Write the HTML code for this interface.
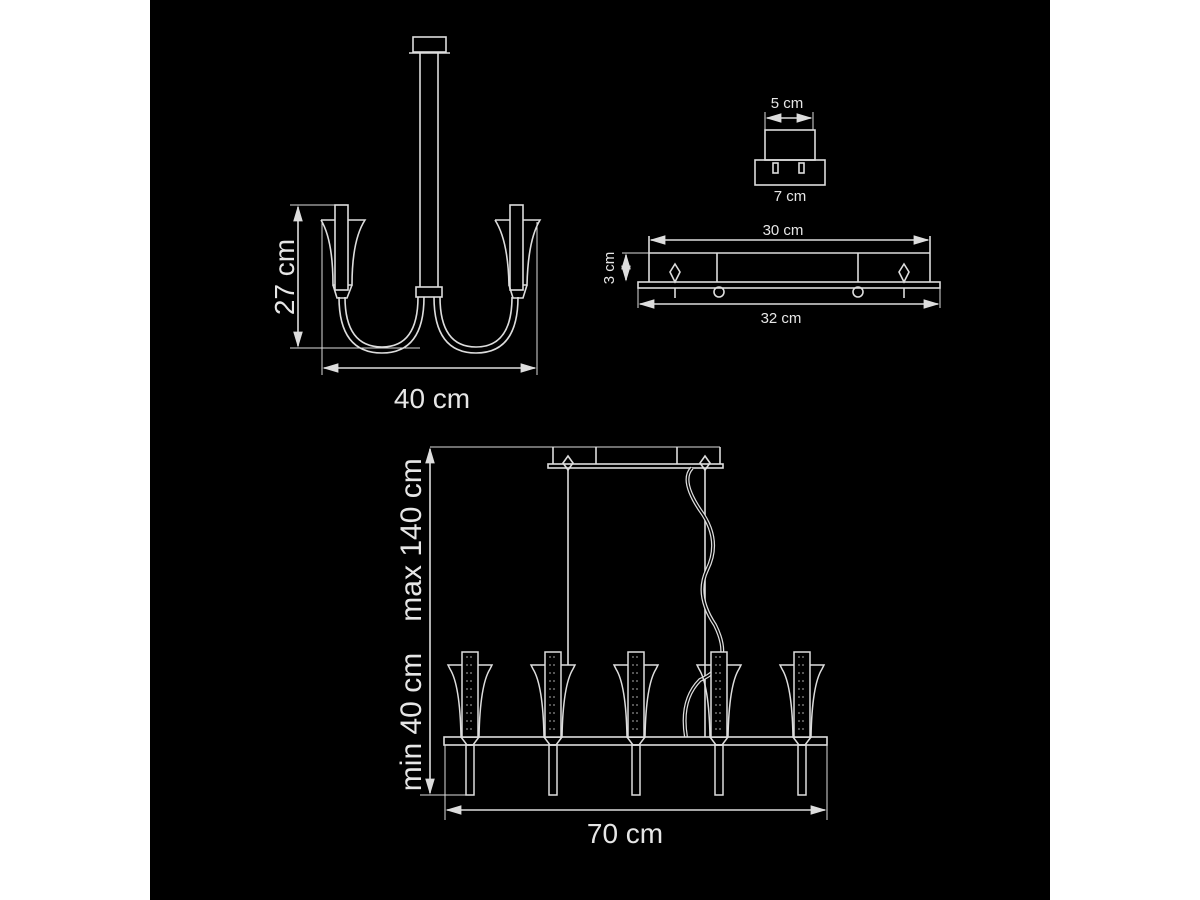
<!DOCTYPE html>
<html><head><style>
html,body{margin:0;padding:0;background:#fff;}
svg{display:block;}
text{font-family:"Liberation Sans",sans-serif;fill:#e6e6e6;}
</style></head><body>
<svg width="1200" height="900" viewBox="0 0 1200 900">
<defs>
<marker id="a" markerWidth="10" markerHeight="8" refX="9" refY="4" orient="auto"><path d="M0,1 L10,4 L0,7 Z" fill="#ddd"/></marker>
<marker id="b" markerWidth="10" markerHeight="8" refX="1" refY="4" orient="auto"><path d="M10,1 L0,4 L10,7 Z" fill="#ddd"/></marker>
<g id="cup">
<path d="M-22,0 L22,0 L20,4 Q10,20 9,72 L-9,72 Q-10,20 -20,4 Z" fill="none" stroke="#ddd" stroke-width="1.5"/>
<rect x="-8" y="-13" width="16" height="85" fill="#000" stroke="#ddd" stroke-width="1.5"/>
<path d="M-4,-8 L4,-8 M-4,0 L4,0 M-4,8 L4,8 M-4,16 L4,16 M-4,24 L4,24 M-4,32 L4,32 M-4,40 L4,40 M-4,48 L4,48 M-4,56 L4,56 M-4,64 L4,64" stroke="#aaa" stroke-width="1" stroke-dasharray="2 2"/>
<path d="M-9,72 L-3,80 L3,80 L9,72" fill="none" stroke="#ddd" stroke-width="1.5"/>
<rect x="-4" y="80" width="8" height="50" fill="none" stroke="#ddd" stroke-width="1.5"/>
</g>
</defs>
<rect x="150" y="0" width="900" height="900" fill="#000"/>
<g stroke="#ddd" stroke-width="1.6" fill="none">
<!-- top-left -->
<rect x="413" y="37" width="33" height="15"/>
<line x1="409" y1="53" x2="450" y2="53"/>
<line x1="420" y1="53" x2="420" y2="287"/><line x1="438" y1="53" x2="438" y2="287"/>
<rect x="416" y="287" width="26" height="10"/>
<path d="M418,297 Q418,347 382,347 Q345,347 345,297"/>
<path d="M424,297 Q424,353 382,353 Q339,353 339,297"/>
<path d="M434,297 Q434,353 476,353 Q518,353 518,297"/>
<path d="M440,297 Q440,347 476,347 Q512,347 512,297"/>
<path d="M321,220 L365,220 Q352,240 352,285 L333,285 Q333,240 321,220"/>
<rect x="335" y="205" width="13" height="85" fill="#000"/>
<path d="M333,285 L337,298 L347,298 L352,285"/>
<path d="M495,220 L540,220 Q528,240 527,285 L509,285 Q508,240 495,220"/>
<rect x="510" y="205" width="13" height="85" fill="#000"/>
<path d="M509,285 L513,298 L523,298 L527,285"/>
<line x1="290" y1="205" x2="335" y2="205" stroke-width="1"/>
<line x1="290" y1="348" x2="420" y2="348" stroke-width="1"/>
<line x1="298" y1="207" x2="298" y2="346" marker-start="url(#b)" marker-end="url(#a)"/>
<line x1="322" y1="222" x2="322" y2="375" stroke-width="1"/>
<line x1="537" y1="222" x2="537" y2="375" stroke-width="1"/>
<line x1="324" y1="368" x2="535" y2="368" marker-start="url(#b)" marker-end="url(#a)"/>
<!-- top-right small -->
<rect x="765" y="130" width="50" height="30"/>
<rect x="755" y="160" width="70" height="25"/>
<line x1="765" y1="112" x2="765" y2="130" stroke-width="1"/><line x1="813" y1="112" x2="813" y2="130" stroke-width="1"/>
<line x1="767" y1="118" x2="811" y2="118" marker-start="url(#b)" marker-end="url(#a)"/>
<line x1="757" y1="185" x2="823" y2="185" stroke-width="1"/>
<rect x="773" y="163" width="5" height="10"/><rect x="799" y="163" width="5" height="10"/>
<!-- plate -->
<line x1="649" y1="253" x2="930" y2="253"/>
<line x1="649" y1="236" x2="649" y2="282"/><line x1="930" y1="236" x2="930" y2="282"/>
<rect x="638" y="282" width="302" height="6"/>
<line x1="717" y1="253" x2="717" y2="282"/><line x1="858" y1="253" x2="858" y2="282"/>
<circle cx="719" cy="292" r="5"/><circle cx="858" cy="292" r="5"/>
<path d="M675,264 L680,272 L675,282 L670,272 Z"/><path d="M904,264 L909,272 L904,282 L899,272 Z"/>
<line x1="675" y1="288" x2="675" y2="298"/><line x1="904" y1="288" x2="904" y2="298"/>
<line x1="651" y1="240" x2="928" y2="240" marker-start="url(#b)" marker-end="url(#a)"/>
<line x1="638" y1="288" x2="638" y2="308" stroke-width="1"/><line x1="940" y1="288" x2="940" y2="308" stroke-width="1"/>
<line x1="640" y1="304" x2="938" y2="304" marker-start="url(#b)" marker-end="url(#a)"/>
<line x1="622" y1="253" x2="649" y2="253" stroke-width="1"/>
<line x1="626" y1="255" x2="626" y2="280" marker-start="url(#b)" marker-end="url(#a)"/>
<!-- bottom -->
<line x1="430" y1="447" x2="720" y2="447" stroke-width="1"/>
<line x1="553" y1="447" x2="553" y2="464"/><line x1="720" y1="447" x2="720" y2="464"/>
<line x1="596" y1="447" x2="596" y2="464"/><line x1="677" y1="447" x2="677" y2="464"/>
<rect x="548" y="464" width="175" height="4"/>
<path d="M568,456 L573,463 L568,470 L563,463 Z"/><path d="M705,456 L710,463 L705,470 L700,463 Z"/>
<line x1="568" y1="470" x2="568" y2="665"/>
<line x1="705" y1="470" x2="705" y2="737"/>
<path d="M692,468 Q680,480 700,510 Q722,540 707,570 Q695,595 715,625 Q735,665 700,680 Q680,700 686,737" stroke-width="4"/>
<path d="M692,468 Q680,480 700,510 Q722,540 707,570 Q695,595 715,625 Q735,665 700,680 Q680,700 686,737" stroke="#000" stroke-width="1.5"/>
<rect x="444" y="737" width="383" height="8"/>
<line x1="430" y1="449" x2="430" y2="793" marker-start="url(#b)" marker-end="url(#a)"/>
<line x1="420" y1="795" x2="470" y2="795" stroke-width="1"/>
<line x1="445" y1="745" x2="445" y2="820" stroke-width="1"/><line x1="827" y1="745" x2="827" y2="820" stroke-width="1"/>
<line x1="447" y1="810" x2="825" y2="810" marker-start="url(#b)" marker-end="url(#a)"/>
</g>
<use href="#cup" x="470" y="665"/>
<use href="#cup" x="553" y="665"/>
<use href="#cup" x="636" y="665"/>
<use href="#cup" x="719" y="665"/>
<use href="#cup" x="802" y="665"/>
<text x="432" y="408" font-size="28" text-anchor="middle">40 cm</text>
<text transform="translate(294,277) rotate(-90)" font-size="28" text-anchor="middle">27 cm</text>
<text x="787" y="108" font-size="15" text-anchor="middle">5 cm</text>
<text x="790" y="201" font-size="15" text-anchor="middle">7 cm</text>
<text x="783" y="235" font-size="15" text-anchor="middle">30 cm</text>
<text x="781" y="323" font-size="15" text-anchor="middle">32 cm</text>
<text transform="translate(614,268) rotate(-90)" font-size="15" text-anchor="middle">3 cm</text>
<text transform="translate(421,540) rotate(-90)" font-size="30" text-anchor="middle">max 140 cm</text>
<text transform="translate(421,722) rotate(-90)" font-size="30" text-anchor="middle">min 40 cm</text>
<text x="625" y="843" font-size="28" text-anchor="middle">70 cm</text>
</svg>
</body></html>
